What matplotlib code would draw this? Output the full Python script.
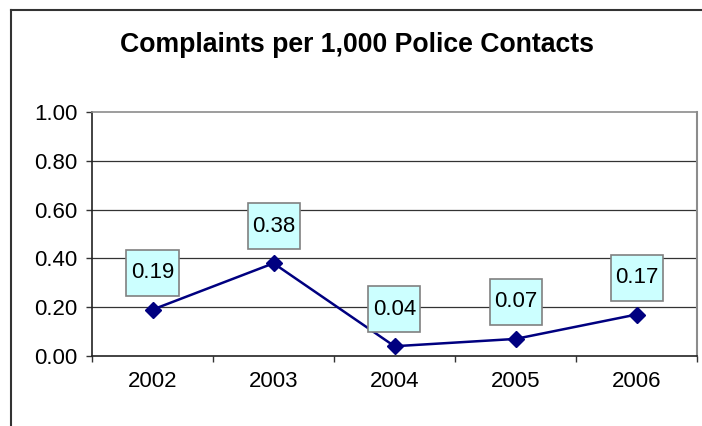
import matplotlib
matplotlib.use("Agg")
import matplotlib.pyplot as plt
from matplotlib.lines import Line2D
from matplotlib.patches import Rectangle

years = ["2002", "2003", "2004", "2005", "2006"]
values = [0.19, 0.38, 0.04, 0.07, 0.17]
yticks = [0.0, 0.2, 0.4, 0.6, 0.8, 1.0]
title = "Complaints per 1,000 Police Contacts"

plt.rcParams['font.family'] = ['Liberation Sans', 'DejaVu Sans']

W, H = 702, 426
fig = plt.figure(figsize=(W / 100, H / 100), dpi=100)
ax = fig.add_axes([92 / W, 1 - 356 / H, (697 - 92) / W, (356 - 112) / H])

x = [i + 0.5 for i in range(len(values))]
ax.plot(x, values, color='#000080', lw=1.8, marker='D', markersize=8.5,
        markerfacecolor='#000080', markeredgecolor='#000080', zorder=3)

ax.set_xlim(0, 5)
ax.set_ylim(0, 1.0)
ax.set_yticks(yticks)
ax.set_yticklabels([f"{t:.2f}" for t in yticks], fontsize=16)
ax.set_xticks(range(0, 6))
ax.set_xticklabels([])
ax.set_xticks(x, minor=True)
ax.set_xticklabels(years, minor=True, fontsize=16)
ax.tick_params(axis='x', which='major', direction='out', length=4.5, width=1, color='#333333')
ax.tick_params(axis='x', which='minor', length=0, pad=11)
ax.tick_params(axis='y', direction='out', length=4.5, width=1, color='#333333', pad=6)

for g in [0.2, 0.4, 0.6, 0.8]:
    ax.axhline(g, color='#333333', lw=0.9, zorder=1)

# data labels in fixed-size boxes
bw, bh, gap = 52, 46, 14
for xi, v in zip(x, values):
    px, py = ax.transData.transform((xi, v))
    cx, cy = px, py + gap + bh / 2
    fig.add_artist(Rectangle(((cx - bw / 2) / W, (cy - bh / 2) / H), bw / W, bh / H,
                             transform=fig.transFigure, fc='#CCFFFF', ec='#808080',
                             lw=1.2, zorder=4))
    fig.text(cx / W, cy / H, f"{v:.2f}", ha='center', va='center',
             fontsize=16, color='black', zorder=5)

ax.spines['left'].set_color('#222222')
ax.spines['bottom'].set_color('#222222')
ax.spines['left'].set_linewidth(1.2)
ax.spines['bottom'].set_linewidth(1.2)
ax.spines['top'].set_color('#8c8c8c')
ax.spines['right'].set_color('#8c8c8c')
ax.spines['top'].set_linewidth(1.2)
ax.spines['right'].set_linewidth(1.5)

fig.text(357 / W, 1 - 45 / H, title, ha='center', va='center',
         fontsize=19.2, fontweight='bold')

fig.add_artist(Line2D([11 / W, 11 / W], [0, 1 - 10 / H], color='#333333', lw=1.5,
                      transform=fig.transFigure))
fig.add_artist(Line2D([11 / W, 1], [1 - 10 / H, 1 - 10 / H], color='#333333', lw=1.5,
                      transform=fig.transFigure))

fig.savefig("out.png", dpi=100, facecolor='white')
